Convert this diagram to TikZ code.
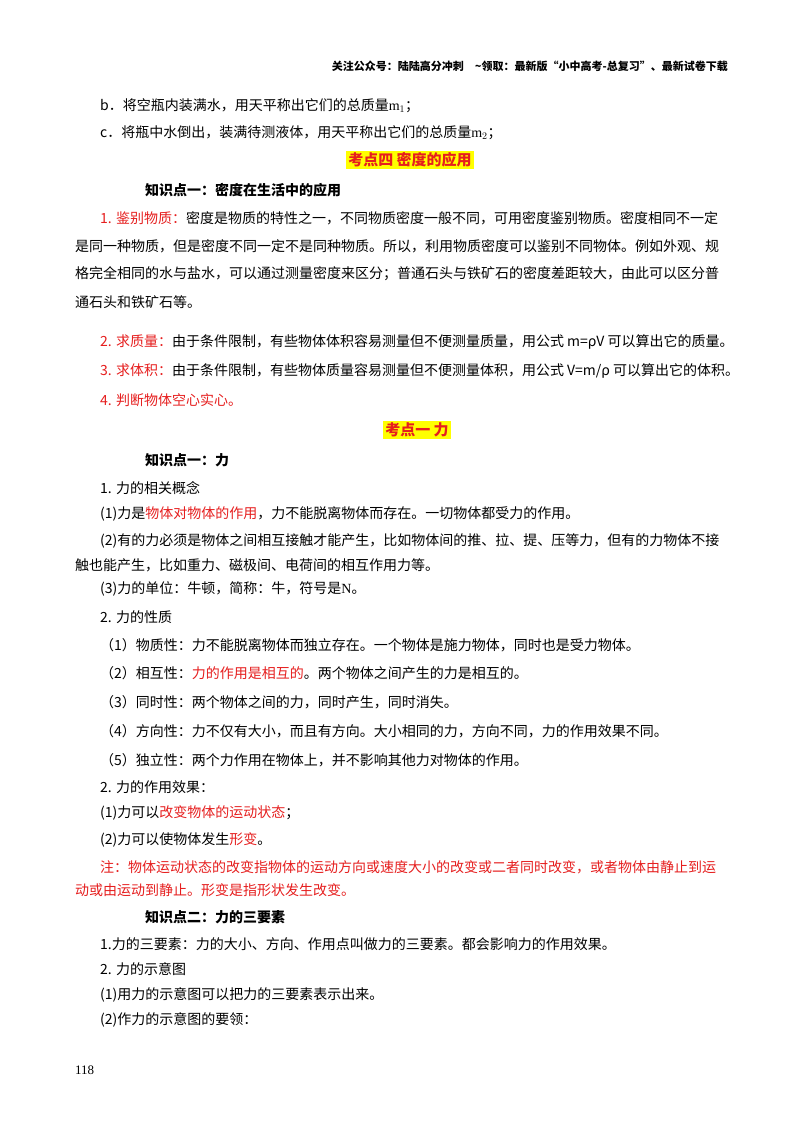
\documentclass[tikz,border=0pt]{standalone}
\usepackage{fontspec}
\setmainfont{Noto Sans CJK SC}
\newfontfamily\tms{Liberation Serif}
\definecolor{rd}{RGB}{230,30,30}
\definecolor{yl}{RGB}{255,255,0}
\begin{document}
\begin{tikzpicture}[x=1pt,y=-1pt,
 t/.style={anchor=west,inner sep=0pt,font=\fontsize{14}{16}\selectfont},
 kd/.style={anchor=center,inner sep=2pt,fill=yl,text=rd,font=\fontsize{15}{18}\selectfont\bfseries},
 zs/.style={t,font=\fontsize{14}{16}\selectfont\bfseries}]
\useasboundingbox[fill=white] (0,0) rectangle (800,1132);
\node[anchor=east,inner sep=0pt,font=\fontsize{11}{13}\selectfont\bfseries] (hd) at (728,66) {关注公众号：陆陆高分冲刺\quad \textasciitilde 领取：最新版“小中高考-总复习”、最新试卷下载};
\node[t] (b) at (100,106) {b．将空瓶内装满水，用天平称出它们的总质量{\tms m$_1$}；};
\node[t] (c) at (100,133) {c．将瓶中水倒出，装满待测液体，用天平称出它们的总质量{\tms m$_2$}；};
\node[kd] (k4) at (410,160) {考点四\ 密度的应用};
\node[zs] (z1) at (145,190) {知识点一：密度在生活中的应用};
\node[t] (p1) at (100,218) {\textcolor{rd}{1. 鉴别物质：}密度是物质的特性之一，不同物质密度一般不同，可用密度鉴别物质。密度相同不一定};
\node[t] (p1b) at (75,246) {是同一种物质，但是密度不同一定不是同种物质。所以，利用物质密度可以鉴别不同物体。例如外观、规};
\node[t] (p1c) at (75,274) {格完全相同的水与盐水，可以通过测量密度来区分；普通石头与铁矿石的密度差距较大，由此可以区分普};
\node[t] (p1d) at (75,302) {通石头和铁矿石等。};
\node[t] (p2) at (100,342) {\textcolor{rd}{2. 求质量：}由于条件限制，有些物体体积容易测量但不便测量质量，用公式 m=ρV 可以算出它的质量。};
\node[t] (p3) at (100,371) {\textcolor{rd}{3. 求体积：}由于条件限制，有些物体质量容易测量但不便测量体积，用公式 V=m/ρ 可以算出它的体积。};
\node[t,text=rd] (p4) at (100,400) {4. 判断物体空心实心。};
\node[kd] (k1) at (417,430) {考点一\ 力};
\node[zs] (z2) at (145,460) {知识点一：力};
\node[t] (q1) at (100,488) {1. 力的相关概念};
\node[t] (q2) at (100,514) {(1)力是\textcolor{rd}{物体对物体的作用}，力不能脱离物体而存在。一切物体都受力的作用。};
\node[t] (q3) at (100,541) {(2)有的力必须是物体之间相互接触才能产生，比如物体间的推、拉、提、压等力，但有的力物体不接};
\node[t] (q3b) at (75,565) {触也能产生，比如重力、磁极间、电荷间的相互作用力等。};
\node[t] (q4) at (100,589) {(3)力的单位：牛顿，简称：牛，符号是{\tms N}。};
\node[t] (q5) at (100,617) {2. 力的性质};
\node[t] (r1) at (100,645) {（1）物质性：力不能脱离物体而独立存在。一个物体是施力物体，同时也是受力物体。};
\node[t] (r2) at (100,673) {（2）相互性：\textcolor{rd}{力的作用是相互的}。两个物体之间产生的力是相互的。};
\node[t] (r3) at (100,702) {（3）同时性：两个物体之间的力，同时产生，同时消失。};
\node[t] (r4) at (100,731) {（4）方向性：力不仅有大小，而且有方向。大小相同的力，方向不同，力的作用效果不同。};
\node[t] (r5) at (100,760) {（5）独立性：两个力作用在物体上，并不影响其他力对物体的作用。};
\node[t] (s0) at (100,787) {2. 力的作用效果：};
\node[t] (s1) at (100,813) {(1)力可以\textcolor{rd}{改变物体的运动状态}；};
\node[t] (s2) at (100,840) {(2)力可以使物体发生\textcolor{rd}{形变}。};
\node[t,text=rd] (s3) at (100,867) {注：物体运动状态的改变指物体的运动方向或速度大小的改变或二者同时改变，或者物体由静止到运};
\node[t,text=rd] (s3b) at (75,890) {动或由运动到静止。形变是指形状发生改变。};
\node[zs] (z3) at (145,917) {知识点二：力的三要素};
\node[t] (u1) at (100,944) {1.力的三要素：力的大小、方向、作用点叫做力的三要素。都会影响力的作用效果。};
\node[t] (u2) at (100,969) {2. 力的示意图};
\node[t] (u3) at (100,995) {(1)用力的示意图可以把力的三要素表示出来。};
\node[t] (u4) at (100,1020) {(2)作力的示意图的要领：};
\node[t,font=\tms\fontsize{13}{15}\selectfont] (pg) at (75,1070) {118};
\end{tikzpicture}
\end{document}
